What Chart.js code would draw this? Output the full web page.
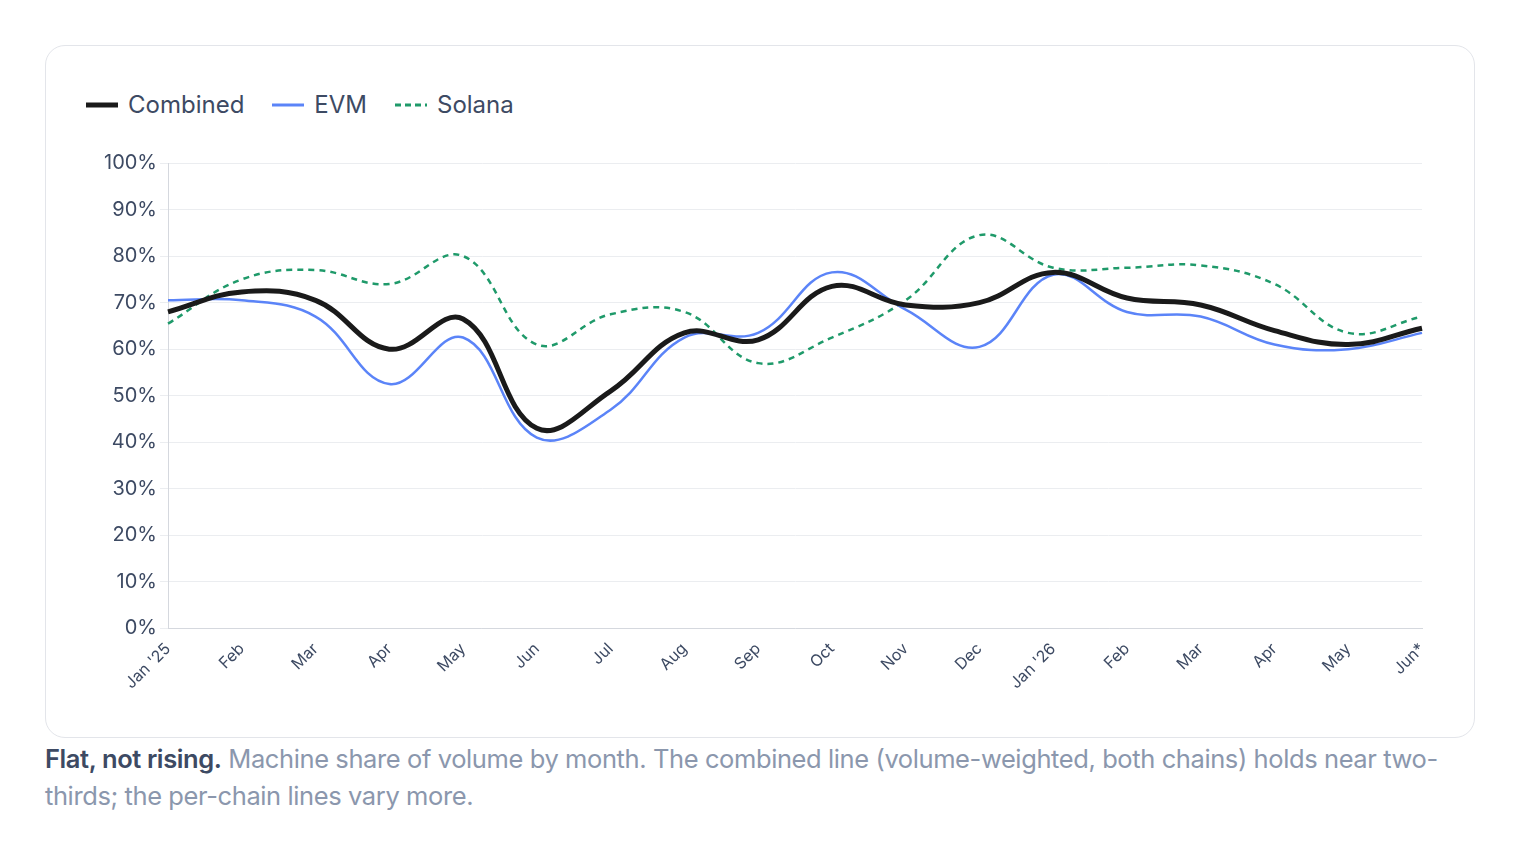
<!DOCTYPE html>
<html>
<head>
<meta charset="utf-8">
<script src="https://cdn.jsdelivr.net/npm/chart.js@4"></script>
<style>
  body { margin: 0; background: #fff; font-family: Inter, "Noto Sans", sans-serif; }
  .card { position: absolute; left: 45px; top: 45px; width: 1428px; height: 691px; border: 1.5px solid #e3e5ea; border-radius: 20px; }
  .legend { position: absolute; left: 40px; top: 44px; display: flex; gap: 28px; font-size: 24px; color: #3d4a63; }
  .legend span { display: flex; align-items: center; gap: 10px; }
  .wrap { position: absolute; left: 30px; top: 100px; width: 1370px; height: 560px; }
  .caption { position: absolute; left: 45px; top: 740px; width: 1440px; font-size: 25.5px; line-height: 37px; color: #8b97ad; letter-spacing: -0.4px; }
  .caption b { color: #3d4a63; font-weight: 600; }
</style>
</head>
<body>
<div class="card">
  <div class="legend">
    <span><svg width="32" height="6"><line x1="0" y1="3" x2="32" y2="3" stroke="#1a1a1a" stroke-width="5"/></svg>Combined</span>
    <span><svg width="32" height="6"><line x1="0" y1="3" x2="32" y2="3" stroke="#5b84f8" stroke-width="3"/></svg>EVM</span>
    <span><svg width="32" height="6"><line x1="0" y1="3" x2="32" y2="3" stroke="#1f9a6a" stroke-width="3" stroke-dasharray="6,4"/></svg>Solana</span>
  </div>
  <div class="wrap"><canvas id="c"></canvas></div>
</div>
<div class="caption"><b>Flat, not rising.</b> Machine share of volume by month. The combined line (volume-weighted, both chains) holds near two-thirds; the per-chain lines vary more.</div>
<script>
const months = ["Jan '25","Feb","Mar","Apr","May","Jun","Jul","Aug","Sep","Oct","Nov","Dec","Jan '26","Feb","Mar","Apr","May","Jun*"];
const combined = [68, 72.3, 70.5, 60, 66.5, 43, 51, 63.5, 62, 73.5, 69.5, 70, 76.5, 71, 69.5, 64, 61, 64.5];
const evm = [70.5, 70.5, 67, 52.5, 62.5, 41, 47, 62.5, 63.5, 76.5, 68.5, 60.5, 76, 68, 67, 61, 60, 63.5];
const solana = [65.5, 75, 77, 74, 80, 61, 67.5, 68, 57, 62.5, 70.5, 84.5, 77.5, 77.5, 78, 74, 63.5, 67];

new Chart(document.getElementById("c"), {
  type: "line",
  data: {
    labels: months,
    datasets: [
      { label: "Combined", data: combined, borderColor: "#1a1a1a", borderWidth: 5, pointRadius: 0, tension: 0.4 },
      { label: "EVM", data: evm, borderColor: "#5b84f8", borderWidth: 2.5, pointRadius: 0, tension: 0.4 },
      { label: "Solana", data: solana, borderColor: "#1f9a6a", borderWidth: 2.5, borderDash: [6, 5], pointRadius: 0, tension: 0.4 }
    ]
  },
  options: {
    responsive: true,
    maintainAspectRatio: false,
    animation: false,
    layout: { padding: { top: 17, right: 24, left: 25, bottom: 10 } },
    plugins: { legend: { display: false }, tooltip: { enabled: false } },
    scales: {
      x: {
        grid: { display: false },
        border: { color: "#d5d8de" },
        ticks: { color: "#3d4a63", font: { family: "Inter", size: 16 }, maxRotation: 45, minRotation: 45, autoSkip: false }
      },
      y: {
        min: 0, max: 100,
        grid: { color: "#ebedf0" },
        border: { color: "#d5d8de" },
        ticks: { stepSize: 10, color: "#3d4a63", font: { family: "Inter", size: 20 }, callback: v => v + "%" }
      }
    }
  }
});
</script>
</body>
</html>
